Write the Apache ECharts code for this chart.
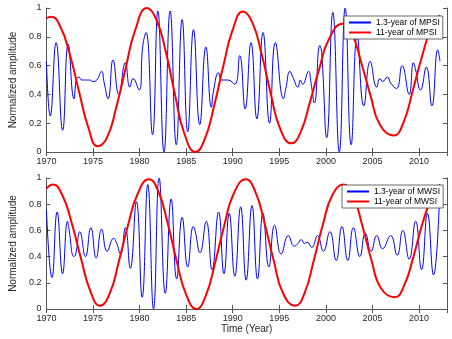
<!DOCTYPE html>
<html>
<head>
<meta charset="utf-8">
<script src="https://cdn.jsdelivr.net/npm/echarts@6/dist/echarts.min.js"></script>
<style>
  html, body { margin: 0; padding: 0; background: #fff; }
  #chart { width: 452px; height: 339px; }
</style>
</head>
<body>
<div id="chart"></div>
<script>
// tick labels
var yearTicks = [1970, 1975, 1980, 1985, 1990, 1995, 2000, 2005, 2010]
var ampTicks = [0, 0.2, 0.4, 0.6, 0.8, 1]

var legendTop = ['1.3-year of MPSI', '11-year of MPSI']
var legendBottom = ['1.3-year of MWSI', '11-year of MWSI']

// [year, amplitude] (peaks, troughs and a few points between)
var mpsiShort = [
  [1970.00, 0.63], [1970.41, 0.25], [1971.04, 0.76], [1971.74, 0.15], [1972.34, 0.75], [1972.96, 0.37],
  [1973.24, 0.51], [1973.5, 0.52], [1973.8, 0.50], [1974.2, 0.50], [1974.6, 0.50], [1975.0, 0.49],
  [1975.4, 0.50], [1975.92, 0.56], [1976.2, 0.48], [1976.62, 0.37], [1977.15, 0.64], [1977.77, 0.40],
  [1978.47, 0.62], [1978.96, 0.45], [1979.3, 0.51], [1979.94, 0.43], [1980.35, 0.74], [1980.7, 0.83],
  [1981.39, 0.12], [1981.96, 0.98], [1982.62, 0.0], [1983.28, 0.98], [1983.94, 0.05], [1984.57, 0.92],
  [1985.17, 0.14], [1985.79, 0.85], [1986.46, 0.19], [1987.12, 0.73], [1987.71, 0.31], [1987.95, 0.43],
  [1988.48, 0.55], [1988.8, 0.50], [1989.5, 0.50], [1990.22, 0.47], [1990.75, 0.67], [1991.33, 0.30],
  [1991.96, 0.76], [1992.59, 0.23], [1993.25, 0.83], [1993.95, 0.20], [1994.58, 0.76], [1995.45, 0.37],
  [1995.7, 0.44], [1996.14, 0.56], [1996.45, 0.52], [1997.01, 0.45], [1997.25, 0.50], [1997.5, 0.47],
  [1998.14, 0.56], [1998.4, 0.48], [1998.76, 0.34], [1999.35, 0.74], [1999.55, 0.69], [2000.09, 0.10],
  [2000.74, 0.97], [2001.44, 0.0], [2002.07, 1.0], [2002.71, 0.05], [2003.36, 0.81], [2004.07, 0.32],
  [2004.76, 0.63], [2005.46, 0.45], [2005.8, 0.51], [2006.1, 0.49], [2006.6, 0.52], [2006.95, 0.48],
  [2007.58, 0.44], [2008.18, 0.60], [2008.94, 0.40], [2009.4, 0.62], [2009.6, 0.58], [2010.16, 0.43],
  [2010.78, 0.59], [2011.38, 0.32], [2012.01, 0.71], [2012.25, 0.63]
]

var mpsiLong = [
  [1970, 0.93], [1970.5, 0.94], [1971.5, 0.87], [1972.5, 0.68], [1973.5, 0.42], [1974.5, 0.17],
  [1975.5, 0.04], [1976.5, 0.10], [1977.5, 0.31], [1978.5, 0.58], [1979.5, 0.84], [1980.8, 1.0],
  [1981.8, 0.92], [1982.8, 0.70], [1983.8, 0.40], [1984.8, 0.13], [1986.0, 0.0], [1987.0, 0.09],
  [1988.0, 0.32], [1989.0, 0.60], [1990.0, 0.85], [1991.1, 0.975], [1992.1, 0.90], [1993.1, 0.68],
  [1994.1, 0.40], [1995.1, 0.16], [1996.3, 0.06], [1997.3, 0.14], [1998.3, 0.35], [1999.3, 0.58],
  [2000.3, 0.78], [2001.8, 0.89], [2002.8, 0.82], [2003.8, 0.62], [2004.8, 0.39], [2005.8, 0.19],
  [2007.3, 0.115], [2008.3, 0.20], [2009.3, 0.42], [2010.3, 0.66], [2011.3, 0.86], [2012.25, 0.95]
]

var mwsiShort = [
  [1970.00, 0.76], [1970.6, 0.24], [1971.15, 0.74], [1971.74, 0.27], [1972.26, 0.67], [1972.4, 0.62],
  [1972.96, 0.40], [1973.15, 0.42], [1973.59, 0.59], [1974.19, 0.40], [1974.77, 0.62], [1975.34, 0.39],
  [1975.92, 0.61], [1976.52, 0.44], [1977.22, 0.54], [1977.5, 0.51], [1977.95, 0.42], [1978.47, 0.62],
  [1979.0, 0.31], [1979.66, 0.82], [1980.28, 0.09], [1980.88, 0.95], [1981.5, 0.0], [1982.1, 1.0],
  [1982.76, 0.12], [1983.39, 0.84], [1983.98, 0.23], [1984.57, 0.70], [1985.17, 0.32], [1985.76, 0.63],
  [1985.95, 0.60], [1986.49, 0.43], [1987.16, 0.67], [1987.78, 0.30], [1988.48, 0.74], [1989.06, 0.27],
  [1989.62, 0.73], [1990.22, 0.25], [1990.85, 0.78], [1991.44, 0.22], [1992.07, 0.79], [1992.66, 0.23],
  [1993.25, 0.73], [1993.88, 0.32], [1994.5, 0.64], [1995.2, 0.42], [1995.97, 0.56], [1996.6, 0.48],
  [1997.0, 0.50], [1997.37, 0.53], [1997.7, 0.50], [1998.0, 0.51], [1998.48, 0.47], [1999.1, 0.56],
  [1999.73, 0.44], [2000.43, 0.59], [2001.1, 0.37], [2001.72, 0.63], [2002.35, 0.37], [2002.95, 0.62],
  [2003.65, 0.40], [2004.23, 0.58], [2004.86, 0.44], [2005.46, 0.56], [2006.08, 0.46], [2006.95, 0.56],
  [2007.65, 0.41], [2008.25, 0.60], [2008.94, 0.38], [2009.63, 0.67], [2010.27, 0.30], [2010.9, 0.73],
  [2011.55, 0.26], [2012.18, 0.82]
]

var mwsiLong = [
  [1970, 0.92], [1970.7, 0.95], [1971.7, 0.87], [1972.7, 0.66], [1973.7, 0.39], [1974.7, 0.14],
  [1975.75, 0.025], [1976.8, 0.12], [1977.8, 0.37], [1978.8, 0.65], [1979.8, 0.88], [1981.0, 0.99],
  [1982.0, 0.90], [1983.0, 0.66], [1984.0, 0.36], [1985.0, 0.11], [1986.1, 0.0], [1987.1, 0.10],
  [1988.1, 0.35], [1989.1, 0.64], [1990.1, 0.88], [1991.4, 0.99], [1992.4, 0.90], [1993.4, 0.66],
  [1994.4, 0.37], [1995.4, 0.12], [1996.7, 0.025], [1997.7, 0.12], [1998.7, 0.37], [1999.7, 0.65],
  [2000.7, 0.87], [2001.9, 0.95], [2002.9, 0.87], [2003.9, 0.64], [2004.9, 0.37], [2005.9, 0.16],
  [2007.4, 0.09], [2008.4, 0.18], [2009.4, 0.40], [2010.4, 0.66], [2011.4, 0.86], [2012.25, 0.95]
]

var chart = echarts.init(document.getElementById('chart'), null, { renderer: 'canvas' })

var textColor = '#262626'
var boxColor = '#555'
var font = "'Liberation Sans', Arial, sans-serif"

function xAxisPair (grid, withName) {
  var base = {
    type: 'value',
    gridIndex: grid,
    min: yearTicks[0],
    max: 2013,
    interval: 5,
    splitLine: { show: false },
    axisLine: { lineStyle: { color: boxColor, width: 1 } },
    axisTick: { inside: true, length: 4, lineStyle: { color: boxColor } }
  }
  var main = Object.assign({}, base, {
    position: 'bottom',
    axisLabel: {
      color: textColor,
      fontSize: 9,
      margin: 5,
      fontFamily: font,
      showMaxLabel: false,
      formatter: function (v) { return String(v) }
    }
  })
  if (withName) {
    main.name = 'Time (Year)'
    main.nameLocation = 'middle'
    main.nameGap = 15
    main.nameTextStyle = { color: textColor, fontSize: 10, fontFamily: font }
  }
  var top = Object.assign({}, base, { position: 'top', axisLabel: { show: false } })
  return [main, top]
}

function yAxisPair (grid) {
  var base = {
    type: 'value',
    gridIndex: grid,
    min: ampTicks[0],
    max: ampTicks[ampTicks.length - 1],
    interval: 0.2,
    splitLine: { show: false },
    axisLine: { show: true, lineStyle: { color: boxColor, width: 1 } },
    axisTick: { show: true, inside: true, length: 4, lineStyle: { color: boxColor } }
  }
  var left = Object.assign({}, base, {
    position: 'left',
    name: 'Normalized amplitude',
    nameLocation: 'middle',
    nameGap: 19,
    nameTextStyle: { color: textColor, fontSize: 10, fontFamily: font },
    axisLabel: { color: textColor, fontSize: 9, margin: 5, fontFamily: font }
  })
  var right = Object.assign({}, base, { position: 'right', axisLabel: { show: false } })
  return [left, right]
}

function legendBox (names, left, top) {
  return {
    data: names,
    orient: 'vertical',
    left: left,
    top: top,
    padding: [2, 3, 2, 4],
    itemGap: 1,
    itemWidth: 22,
    itemHeight: 9,
    // hide the dot that line series put in the legend icon
    itemStyle: { opacity: 0 },
    backgroundColor: '#fff',
    borderColor: '#444',
    borderWidth: 0.8,
    borderRadius: 0,
    textStyle: { color: '#000', fontSize: 8.5, fontFamily: font }
  }
}

function shortLine (name, data, x, y) {
  return {
    name: name,
    type: 'line',
    xAxisIndex: x,
    yAxisIndex: y,
    data: data,
    smooth: true,
    symbol: 'none',
    lineStyle: { color: '#0000ff', width: 1 },
    itemStyle: { color: '#0000ff' }
  }
}

function longLine (name, data, x, y) {
  return {
    name: name,
    type: 'line',
    xAxisIndex: x,
    yAxisIndex: y,
    data: data,
    smooth: true,
    symbol: 'none',
    lineStyle: { color: '#ff0000', width: 2 },
    itemStyle: { color: '#ff0000' }
  }
}

var option = {
  animation: false,
  backgroundColor: '#fff',
  textStyle: { fontFamily: font },
  grid: [
    { left: 35, right: 5, top: 8, height: 144 },
    { left: 35, right: 5, top: 178, height: 131 }
  ],
  xAxis: xAxisPair(0, false).concat(xAxisPair(1, true)),
  yAxis: yAxisPair(0).concat(yAxisPair(1)),
  legend: [
    legendBox(legendTop, 344, 16),
    legendBox(legendBottom, 342, 185)
  ],
  series: [
    shortLine(legendTop[0], mpsiShort, 0, 0),
    longLine(legendTop[1], mpsiLong, 0, 0),
    shortLine(legendBottom[0], mwsiShort, 2, 2),
    longLine(legendBottom[1], mwsiLong, 2, 2)
  ]
}

chart.setOption(option)
</script>
</body>
</html>
